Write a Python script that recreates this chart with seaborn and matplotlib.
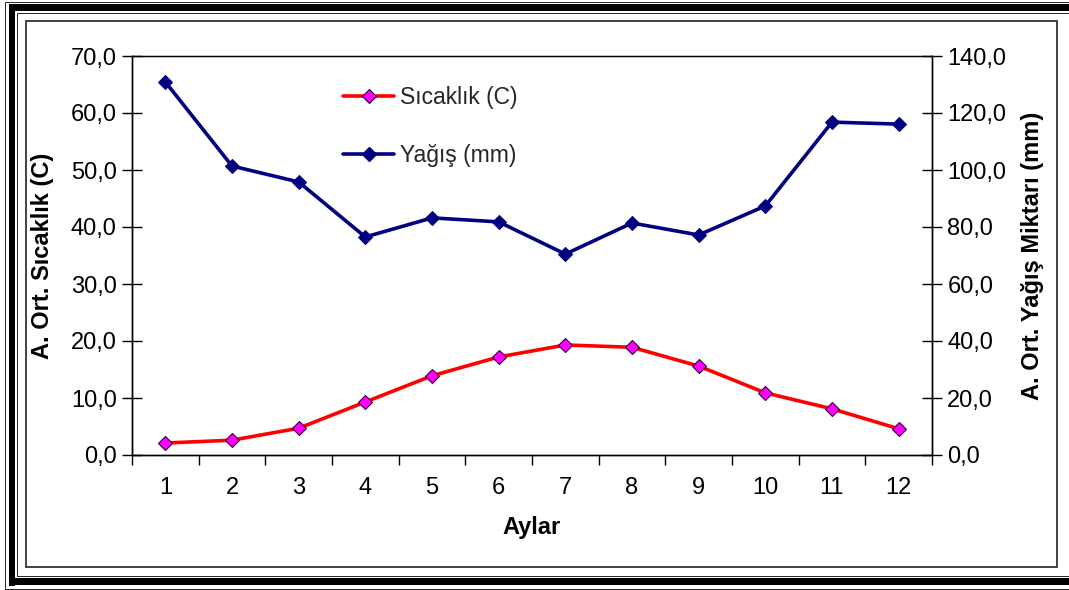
import matplotlib
matplotlib.use("Agg")
import matplotlib.pyplot as plt
import seaborn as sns
import pandas as pd
from matplotlib.patches import Rectangle
from matplotlib.lines import Line2D
from matplotlib.ticker import MultipleLocator, FixedLocator, FuncFormatter

months = [1, 2, 3, 4, 5, 6, 7, 8, 9, 10, 11, 12]
sicaklik = [2.1, 2.6, 4.7, 9.3, 13.9, 17.2, 19.3, 18.9, 15.6, 10.9, 8.1, 4.6]
yagis = [130.9, 101.4, 95.8, 76.5, 83.2, 81.8, 70.5, 81.4, 77.2, 87.4, 116.8, 116.1]
label_temp = "Sıcaklık (C)"
label_rain = "Yağış (mm)"

sns.set_theme(style="white")
plt.rcParams['font.family'] = ['Liberation Sans', 'DejaVu Sans']
FS = 17

W, H = 1069, 590
fig = plt.figure(figsize=(W / 100, H / 100), dpi=100)
fig.patch.set_facecolor("white")

def fr(x0, y0, x1, y1, **kw):
    # rectangle in pixel coords (top-left origin)
    fig.patches.append(Rectangle((x0 / W, 1 - y1 / H), (x1 - x0) / W, (y1 - y0) / H,
                                 transform=fig.transFigure, **kw))

# outer decorative border
fr(9, 4, 1075, 11, facecolor="black", edgecolor="none")
fr(9, 4, 15, 586, facecolor="black", edgecolor="none")
fr(9, 578, 1075, 585, facecolor="black", edgecolor="none")
fr(4.5, 1.5, 1080, 588.5, facecolor="none", edgecolor="black", lw=0.6)
fr(17, 13, 1080, 576, facecolor="none", edgecolor="black", lw=0.6)
# inner chart area border
fr(26, 21, 1057, 567, facecolor="none", edgecolor="#222222", lw=1.2)

ax = fig.add_axes([132 / W, 1 - 455 / H, 800 / W, 399 / H])
ax2 = ax.twinx()

df = pd.DataFrame({"Ay": months, "Sicaklik": sicaklik, "Yagis": yagis})

sns.lineplot(data=df, x="Ay", y="Sicaklik", ax=ax, color="#ff0000", lw=2.6,
             marker="D", markersize=7, markerfacecolor="#ff00ff",
             markeredgecolor="#330033", markeredgewidth=0.8, zorder=3)
sns.lineplot(data=df, x="Ay", y="Yagis", ax=ax2, color="#000080", lw=2.6,
             marker="D", markersize=7, markerfacecolor="#000080",
             markeredgecolor="#000080", zorder=3)

ax.set_xlim(0.5, 12.5)
ax.set_ylim(0, 70)
ax2.set_ylim(0, 140)

fmt = FuncFormatter(lambda v, p: f"{v:.1f}".replace(".", ","))
ax.yaxis.set_major_locator(MultipleLocator(10))
ax2.yaxis.set_major_locator(MultipleLocator(20))
ax.yaxis.set_major_formatter(fmt)
ax2.yaxis.set_major_formatter(fmt)

ax.xaxis.set_major_locator(FixedLocator(months))
ax.xaxis.set_minor_locator(FixedLocator([m + 0.5 for m in [0] + months]))
ax.tick_params(axis="x", which="major", length=0, pad=16, labelsize=FS, colors="black")
ax.tick_params(axis="x", which="minor", length=7, width=1, direction="out", color="black", bottom=True)
ax.tick_params(axis="y", which="major", length=14, width=1, direction="inout", pad=4,
               labelsize=FS, colors="black", left=True)
ax2.tick_params(axis="y", which="major", length=14, width=1, direction="inout", pad=4,
                labelsize=FS, colors="black", right=True)

for a in (ax, ax2):
    for s in a.spines.values():
        s.set_color("black")
        s.set_linewidth(1)
        s.set_visible(True)
ax.spines["top"].set_linewidth(0.8)

ax.set_xlabel("Aylar", fontsize=FS, fontweight="bold", labelpad=12, color="black")
ax.set_ylabel("A. Ort. Sıcaklık (C)", fontsize=FS, fontweight="bold", color="black")
ax2.set_ylabel("A. Ort. Yağış Miktarı (mm)", fontsize=FS, fontweight="bold", color="black")
ax.yaxis.set_label_coords(-0.0975, 0.5)
ax2.yaxis.set_label_coords(1.111, 0.5)

handles = [
    Line2D([], [], color="#ff0000", lw=2.6, marker="D", markersize=7,
           markerfacecolor="#ff00ff", markeredgecolor="#330033", markeredgewidth=0.8),
    Line2D([], [], color="#000080", lw=2.6, marker="D", markersize=7,
           markerfacecolor="#000080", markeredgecolor="#000080"),
]
leg = fig.legend(handles, [label_temp, label_rain], loc="upper left",
                 bbox_to_anchor=(332 / W, 1 - 75 / H), frameon=False,
                 fontsize=16.5, handlelength=2.2, handletextpad=0.25, labelspacing=1.5,
                 borderpad=0)

ax.set_facecolor("none")
ax2.set_facecolor("none")
fig.savefig("out.png", dpi=100, facecolor="white")
